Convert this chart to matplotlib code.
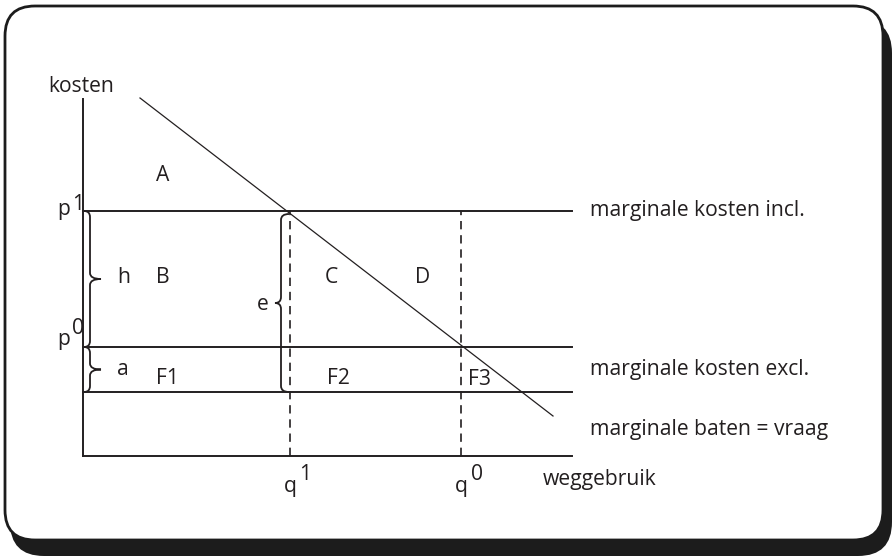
import matplotlib
matplotlib.use("Agg")
import matplotlib.pyplot as plt
from matplotlib.patches import FancyBboxPatch, PathPatch
from matplotlib.path import Path

plt.rcParams['font.family'] = ['Open Sans', 'DejaVu Sans']

INK = '#231f20'

# Diagram quantities (diagram units, origin at the axes corner)
x_axis_end = 489
y_axis_top = 357
price_levels = {'p1': 245, 'p0': 109, 'base': 64}
quantities = {'q1': 207, 'q0': 378}
demand_q = [57, 470]
demand_p = [358, 40]

line_labels = ['marginale kosten incl.', 'marginale kosten excl.', 'marginale baten = vraag']
area_labels = ['A', 'B', 'C', 'D', 'F1', 'F2', 'F3']

fig = plt.figure(figsize=(8.92, 5.57), dpi=100)
ax = fig.add_axes([0, 0, 1, 1])
ax.set_xlim(-83, 809)
ax.set_ylim(-101, 456)
ax.axis('off')

# Card with dark drop shadow
shadow = FancyBboxPatch((-73, -100), 882, 537, boxstyle='round,pad=0,rounding_size=34',
                        fc='#1c1c1c', ec='none', zorder=0)
card = FancyBboxPatch((-78, -84), 878, 534, boxstyle='round,pad=0,rounding_size=30',
                      fc='white', ec='#1c1c1c', lw=2.0, zorder=1)
ax.add_patch(shadow)
ax.add_patch(card)

# Axes lines
ax.plot([0, 0], [0, y_axis_top], color=INK, lw=1.4, zorder=3)
ax.plot([0, x_axis_end], [0, 0], color=INK, lw=1.4, zorder=3)

# Horizontal cost levels
for key in ('p1', 'p0', 'base'):
    y = price_levels[key]
    ax.plot([0, x_axis_end], [y, y], color=INK, lw=1.4, zorder=3)

# Demand curve
ax.plot(demand_q, demand_p, color=INK, lw=0.9, zorder=4)

# Dashed quantity guides
for key in ('q1', 'q0'):
    x = quantities[key]
    ax.plot([x, x], [0, price_levels['p1']], color=INK, lw=1.2,
            dashes=(5, 3.5), zorder=3)


def brace(x, y_top, y_bot, direction, reach=11, curl=6, r=6):
    """Vertical curly brace; tip points to +x if direction > 0."""
    ym = (y_top + y_bot) / 2
    xe = x - direction * curl
    xt = x + direction * reach
    verts = [
        (xe, y_top), (x, y_top), (x, y_top - r),
        (x, ym + r),
        (x, ym), (xt, ym),
        (x, ym), (x, ym - r),
        (x, y_bot + r),
        (x, y_bot), (xe, y_bot),
    ]
    codes = [Path.MOVETO, Path.CURVE3, Path.CURVE3,
             Path.LINETO,
             Path.CURVE3, Path.CURVE3,
             Path.CURVE3, Path.CURVE3,
             Path.LINETO,
             Path.CURVE3, Path.CURVE3]
    ax.add_patch(PathPatch(Path(verts, codes), fc='none', ec=INK, lw=1.3, zorder=5))


p1, p0, base = price_levels['p1'], price_levels['p0'], price_levels['base']
brace(7, p1, p0, +1)
brace(7, p0, base, +1)
brace(198, p1 - 3, base, -1, reach=6, curl=8)

fs = 15.2
def txt(x, y, s, size=fs, **kw):
    ax.text(x, y, s, fontsize=size, color=INK, ha=kw.pop('ha', 'center'),
            va=kw.pop('va', 'baseline'), zorder=6, **kw)

txt(-35, 364, 'kosten', ha='left')
txt(460, -29, 'weggebruik', ha='left')
for label, y in zip(line_labels, (240, 81, 21)):
    txt(507, y, label, ha='left')

# Axis value labels with raised indices
txt(quantities['q1'], -36, 'q')
txt(quantities['q1'] + 15, -24, '1')
txt(quantities['q0'], -36, 'q')
txt(quantities['q0'] + 16, -24, '0')
txt(-19, p1 - 4, 'p')
txt(-5, p1 + 1, '1')
txt(-19, p0 + 2, 'p')
txt(-5, p0 + 13, '0')

# Brace and area labels
txt(41, 173, 'h')
txt(40, 81, 'a')
txt(180, 146, 'e')
positions = [(80, 275), (80, 173), (248, 173), (340, 173), (84, 72), (255, 72), (397, 71)]
for label, (x, y) in zip(area_labels, positions):
    txt(x, y, label)

fig.savefig('out.png', dpi=100)
